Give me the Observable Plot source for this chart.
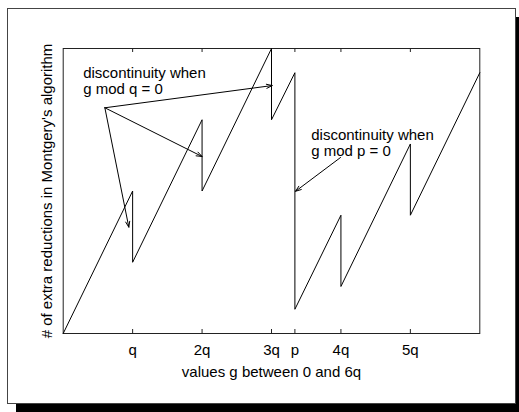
<!DOCTYPE html>
<html><head><meta charset="utf-8">
<script src="https://cdn.jsdelivr.net/npm/d3@7"></script>
<script src="https://cdn.jsdelivr.net/npm/@observablehq/plot@0.6"></script>
<style>
body{margin:0;background:#fff;}
#wrap{position:relative;width:519px;height:412px;overflow:hidden;}
#frame{position:absolute;left:7px;top:8px;width:507px;height:394px;border:1px solid #444;box-shadow:9px 9px 0 #000;background:#fff;}
#chart{position:absolute;left:0;top:0;}
</style></head>
<body><div id="wrap"><div id="frame"></div><div id="chart"></div></div>
<script>
// x in units of q; p sits a bit past 3q
const P = 3.337;
const gValues = [0, 1, 1, 2, 2, 3, 3, P, P, 4, 4, 5, 5, 6];
const reductions = [0, 50, 25, 75, 50, 100, 75, 91.5, 8.5, 41.5, 16.5, 66.5, 41.5, 91.5];
const tickValues = [1, 2, 3, P, 4, 5];
const tickLabels = ["q", "2q", "3q", "p", "4q", "5q"];
const xLabel = "values g between 0 and 6q";
const yLabel = "# of extra reductions in Montgery's algorithm";
const noteTexts = ["discontinuity when\ng mod q = 0", "discontinuity when\ng mod p = 0"];
const noteX = [0.288, 3.572];
const noteY = [93.6, 71.8];
const arrowFromX = [0.6, 0.6, 0.6, 3.994];
const arrowFromY = [79.2, 79.2, 79.2, 61.75];
const arrowToX = [0.945, 2.0, 3.01, 3.346];
const arrowToY = [37.3, 62.1, 87, 49.9];

const pts = d3.range(gValues.length);
const arrows = d3.range(arrowFromX.length);
const notes = d3.range(noteTexts.length);

const H = 412, MT = 48, MB = 79, TICK = 4;
const frameH = H - MT - MB;

const chart = Plot.plot({
  width: 519, height: H,
  marginLeft: 62.7, marginRight: 39.7, marginTop: MT, marginBottom: MB,
  style: {background: "transparent", fontFamily: "'Liberation Sans', Arial, sans-serif", fontSize: "15px", color: "#000", overflow: "visible"},
  x: {domain: [0, 6]},
  y: {domain: [0, 100]},
  marks: [
    Plot.frame({stroke: "#222"}),
    Plot.ruleX(tickValues, {x: d => d, insetTop: frameH - TICK, stroke: "#222", strokeWidth: 1}),
    Plot.ruleX(tickValues, {x: d => d, insetBottom: frameH - TICK, stroke: "#222", strokeWidth: 1}),
    Plot.axisX({anchor: "bottom", ticks: tickValues, tickSize: 0, tickPadding: 11.3,
      tickFormat: d => tickLabels[tickValues.indexOf(d)],
      label: xLabel, labelAnchor: "center", labelArrow: "none", labelOffset: 43}),
    Plot.axisY({anchor: "left", ticks: [], tickSize: 0, label: yLabel, labelAnchor: "center", labelArrow: "none", labelOffset: 21.5}),
    Plot.line(pts, {x: i => gValues[i], y: i => reductions[i], stroke: "black", strokeWidth: 1}),
    Plot.arrow(arrows, {x1: i => arrowFromX[i], y1: i => arrowFromY[i], x2: i => arrowToX[i], y2: i => arrowToY[i],
      stroke: "black", strokeWidth: 1, headLength: 9, headAngle: 40}),
    Plot.text(notes, {x: i => noteX[i], y: i => noteY[i], text: i => noteTexts[i], textAnchor: "start",
      lineAnchor: "top", lineHeight: 16/15, fill: "black", fontSize: 15})
  ]
});
document.getElementById("chart").append(chart);
</script>
</body></html>
